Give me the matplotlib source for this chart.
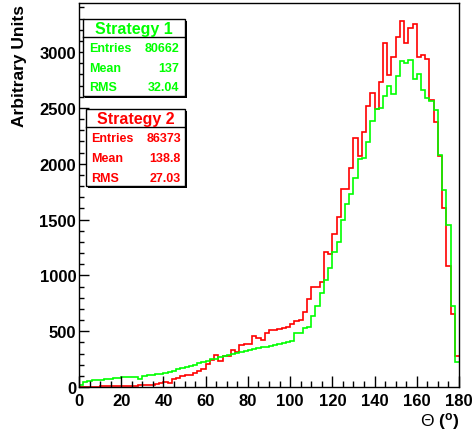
import numpy as np
import matplotlib
matplotlib.use("Agg")
import matplotlib.pyplot as plt
from matplotlib.patches import Rectangle
from matplotlib.ticker import MultipleLocator

plt.rcParams['font.family'] = ['Liberation Sans', 'DejaVu Sans']
plt.rcParams['mathtext.fontset'] = 'custom'
plt.rcParams['mathtext.rm'] = 'Liberation Sans'
plt.rcParams['mathtext.bf'] = 'Liberation Sans:bold'
plt.rcParams['mathtext.it'] = 'Liberation Sans:italic'

# ---- data (2-degree bins from 0 to 180) ----
bin_edges = np.arange(0, 182, 2)

strategy1 = [20, 45, 55, 60, 62, 65, 70, 75, 78, 85,
             88, 87, 90, 88, 75, 100, 104, 108, 118, 120,
             122, 135, 140, 160, 170, 178, 185, 200, 215, 225,
             235, 250, 255, 270, 280, 290, 300, 305, 312, 320,
             330, 338, 345, 355, 362, 370, 380, 385, 393, 400,
             413, 488, 488, 530, 540, 640, 730, 839, 958, 1063,
             1212, 1301, 1494, 1643, 1732, 1873, 2039, 2055, 2194, 2387,
             2486, 2500, 2610, 2694, 2625, 2789, 2923, 2900, 2929, 2760,
             2804, 2661, 2587, 2560, 2485, 2075, 1767, 1450, 730, 223]

strategy2 = [0, 2, 3, 3, 4, 5, 5, 6, 6, 7,
             7, 8, 10, 12, 14, 15, 20, 22, 25, 40,
             45, 38, 70, 78, 95, 104, 110, 125, 140, 165,
             205, 244, 284, 230, 280, 280, 333, 310, 378, 385,
             385, 461, 440, 417, 482, 512, 512, 520, 533, 536,
             563, 595, 600, 675, 786, 893, 900, 944, 1212, 1190,
             1369, 1527, 1777, 1777, 1964, 2230, 2066, 2280, 2521, 2634,
             2491, 2735, 3078, 2798, 2953, 3131, 3280, 3078, 3214, 3256,
             2958, 2970, 2938, 2572, 2373, 2066, 1607, 1087, 655, 280]

stats1 = [("Entries", "80662"), ("Mean", "137"), ("RMS", "32.04")]
stats2 = [("Entries", "86373"), ("Mean", "138.8"), ("RMS", "27.03")]

W, H = 474, 435
fig = plt.figure(figsize=(W / 100, H / 100), dpi=100)

def fx(x):
    return x / W

def fy(y):
    return 1 - y / H

L, R, T, B = 79, 459, 4, 388
ax = fig.add_axes([fx(L), fy(B), fx(R) - fx(L), fy(T) - fy(B)])

ax.stairs(strategy2, bin_edges, color='#ff0000', lw=1.2, baseline=None)
ax.stairs(strategy1, bin_edges, color='#00ff00', lw=1.2, baseline=None)

ax.set_xlim(0, 180)
ax.set_ylim(0, 3440)
ax.xaxis.set_major_locator(MultipleLocator(20))
ax.xaxis.set_minor_locator(MultipleLocator(5))
ax.yaxis.set_major_locator(MultipleLocator(500))
ax.yaxis.set_minor_locator(MultipleLocator(100))
ax.tick_params(axis='both', which='both', direction='in', top=False, right=False)
ax.tick_params(axis='x', which='major', length=8, width=1.0, pad=4, labelsize=12)
ax.tick_params(axis='x', which='minor', length=4, width=1.0)
ax.tick_params(axis='y', which='major', length=7, width=1.0, pad=2, labelsize=12)
ax.tick_params(axis='y', which='minor', length=3.5, width=1.0)
for lab in ax.get_xticklabels() + ax.get_yticklabels():
    lab.set_fontweight('bold')
for s in ax.spines.values():
    s.set_linewidth(1.0)

fig.text(fx(20), fy(5), "Arbitrary Units", rotation=90, ha='center', va='top',
         fontsize=12.5, fontweight='bold')
fig.text(fx(459), fy(422), r'$\Theta$ $\mathbf{(^{o})}$', ha='right', va='center',
         fontsize=12.5)

def stats_box(x0, y0, x1, y1, ysep, title, rows, ys, color, xl, xr):
    # shadow
    fig.patches.append(Rectangle((fx(x0 + 2), fy(y1 + 2)), fx(x1 - x0), fy(y0) - fy(y1),
                                 transform=fig.transFigure, facecolor='black',
                                 edgecolor='none', zorder=5))
    fig.patches.append(Rectangle((fx(x0), fy(y1)), fx(x1 - x0), fy(y0) - fy(y1),
                                 transform=fig.transFigure, facecolor='white',
                                 edgecolor='black', lw=1.0, zorder=6))
    fig.add_artist(plt.Line2D([fx(x0), fx(x1)], [fy(ysep), fy(ysep)],
                              transform=fig.transFigure, color='black', lw=1.0, zorder=7))
    fig.text(fx((x0 + x1) / 2), fy((y0 + ysep) / 2 + 0.5), title, ha='center', va='center',
             fontsize=11.5, fontweight='bold', color=color, zorder=8)
    for (k, v), yy in zip(rows, ys):
        fig.text(fx(xl), fy(yy), k, ha='left', va='center', fontsize=9,
                 fontweight='bold', color=color, zorder=8)
        fig.text(fx(xr), fy(yy), v, ha='right', va='center', fontsize=9,
                 fontweight='bold', color=color, zorder=8)

stats_box(83, 20, 185, 97, 38, "Strategy 1", stats1, [49.5, 69, 88], '#00ff00', 89, 179)
stats_box(86, 110, 185, 187, 128, "Strategy 2", stats2, [139.5, 159, 178.5], '#ff0000', 91, 181)

fig.savefig("out.png", dpi=100)
